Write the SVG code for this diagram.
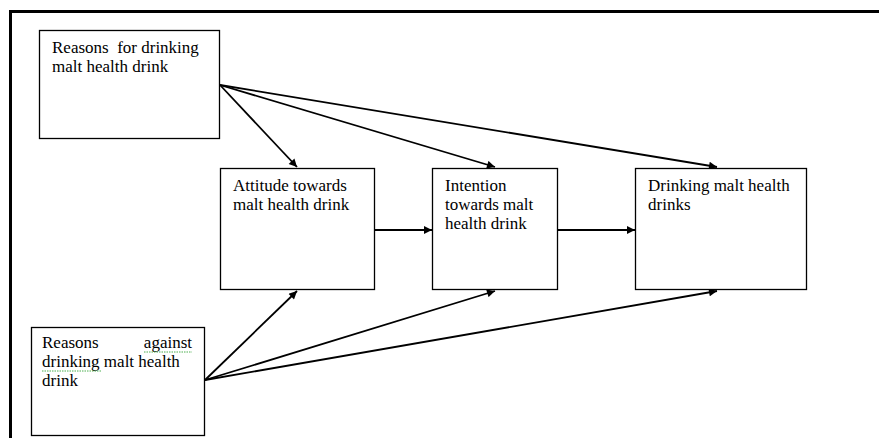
<svg xmlns="http://www.w3.org/2000/svg" width="879" height="438" viewBox="0 0 879 438">
<defs>
<style>
.box{fill:#fff;stroke:#000;stroke-width:1.3}
.c{stroke:#000;stroke-width:1.8;fill:none;marker-end:url(#ah)}
.sp{stroke:#4caf50;stroke-width:1;fill:none;stroke-dasharray:1.5 1}
</style>
<marker id="ah" viewBox="0 0 10 10" refX="10" refY="5" markerWidth="10" markerHeight="8" markerUnits="userSpaceOnUse" orient="auto">
<path d="M0,0 L10,5 L0,10 z" fill="#000"/>
</marker>
</defs>
<rect width="879" height="438" fill="#fff"/>
<path d="M10.5,438 V11.5 H879" stroke="#000" stroke-width="3" fill="none"/>
<g id="connectors">
<line class="c" x1="220" y1="85" x2="297" y2="167"/>
<line class="c" x1="220" y1="85" x2="495" y2="167"/>
<line class="c" x1="220" y1="85" x2="717" y2="167"/>
<line class="c" x1="205" y1="380" x2="297" y2="291"/>
<line class="c" x1="205" y1="380" x2="495" y2="291"/>
<line class="c" x1="205" y1="380" x2="717" y2="291"/>
<line class="c" x1="375" y1="230" x2="432" y2="230"/>
<line class="c" x1="558" y1="230" x2="635" y2="230"/>
</g>
<g font-family="'Liberation Serif', 'Times New Roman', serif" font-size="17" fill="#000">
<g id="n1">
<rect class="box" x="39.5" y="30.5" width="180" height="108"/>
<text x="52" y="53" xml:space="preserve">Reasons  for drinking</text>
<text x="52" y="72">malt health drink</text>
</g>
<g id="n2">
<rect class="box" x="220.5" y="168.5" width="154" height="121"/>
<text x="233" y="191">Attitude towards</text>
<text x="233" y="210">malt health drink</text>
</g>
<g id="n3">
<rect class="box" x="432.5" y="168.5" width="125" height="121"/>
<text x="445" y="191">Intention</text>
<text x="445" y="210">towards malt</text>
<text x="445" y="229">health drink</text>
</g>
<g id="n4">
<rect class="box" x="635.5" y="168.5" width="171" height="121"/>
<text x="648" y="191">Drinking malt health</text>
<text x="648" y="210">drinks</text>
</g>
<g id="n5">
<rect class="box" x="31.5" y="327.5" width="173" height="108"/>
<text x="42" y="348">Reasons</text>
<text x="192" y="348" text-anchor="end">against</text>
<text x="42" y="367">drinking malt health</text>
<text x="42" y="386">drink</text>
<path class="sp" d="M144,352 H192"/>
<path class="sp" d="M42,371 H102"/>
</g>
</g>
</svg>
